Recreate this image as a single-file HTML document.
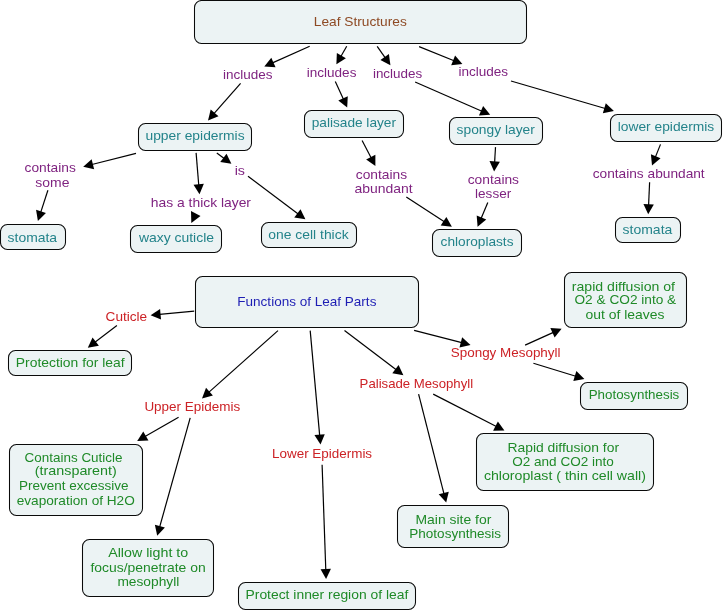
<!DOCTYPE html>
<html><head><meta charset="utf-8"><style>
html,body{margin:0;padding:0;background:#fff;}
body{width:724px;height:612px;overflow:hidden;}
svg{display:block;will-change:transform;}
text{font-family:"Liberation Sans",sans-serif;font-size:13px;}
</style></head><body>
<svg width="724" height="612" viewBox="0 0 724 612">
<rect width="724" height="612" fill="#fff"/>
<rect x="194.5" y="0.5" width="332" height="43" rx="7" ry="7" fill="#ecf3f4" stroke="#0a0a0a" stroke-width="1.05"/>
<rect x="138.5" y="123.5" width="113" height="27" rx="7" ry="7" fill="#ecf3f4" stroke="#0a0a0a" stroke-width="1.05"/>
<rect x="304.5" y="110.5" width="99" height="27" rx="7" ry="7" fill="#ecf3f4" stroke="#0a0a0a" stroke-width="1.05"/>
<rect x="449.5" y="117.5" width="93" height="27" rx="7" ry="7" fill="#ecf3f4" stroke="#0a0a0a" stroke-width="1.05"/>
<rect x="610.5" y="114.5" width="111" height="27" rx="7" ry="7" fill="#ecf3f4" stroke="#0a0a0a" stroke-width="1.05"/>
<rect x="0.5" y="224.5" width="65" height="25" rx="7" ry="7" fill="#ecf3f4" stroke="#0a0a0a" stroke-width="1.05"/>
<rect x="130.5" y="225.5" width="91" height="27" rx="7" ry="7" fill="#ecf3f4" stroke="#0a0a0a" stroke-width="1.05"/>
<rect x="261.5" y="222.5" width="95" height="25" rx="7" ry="7" fill="#ecf3f4" stroke="#0a0a0a" stroke-width="1.05"/>
<rect x="432.5" y="229.5" width="89" height="27" rx="7" ry="7" fill="#ecf3f4" stroke="#0a0a0a" stroke-width="1.05"/>
<rect x="615.5" y="217.5" width="65" height="25" rx="7" ry="7" fill="#ecf3f4" stroke="#0a0a0a" stroke-width="1.05"/>
<rect x="195.5" y="276.5" width="223" height="51" rx="7" ry="7" fill="#ecf3f4" stroke="#0a0a0a" stroke-width="1.05"/>
<rect x="8.5" y="350.5" width="123" height="25" rx="7" ry="7" fill="#ecf3f4" stroke="#0a0a0a" stroke-width="1.05"/>
<rect x="9.5" y="444.5" width="133" height="71" rx="7" ry="7" fill="#ecf3f4" stroke="#0a0a0a" stroke-width="1.05"/>
<rect x="82.5" y="539.5" width="131" height="57" rx="7" ry="7" fill="#ecf3f4" stroke="#0a0a0a" stroke-width="1.05"/>
<rect x="238.5" y="582.5" width="177" height="27" rx="7" ry="7" fill="#ecf3f4" stroke="#0a0a0a" stroke-width="1.05"/>
<rect x="397.5" y="505.5" width="111" height="42" rx="7" ry="7" fill="#ecf3f4" stroke="#0a0a0a" stroke-width="1.05"/>
<rect x="476.5" y="433.5" width="177" height="57" rx="7" ry="7" fill="#ecf3f4" stroke="#0a0a0a" stroke-width="1.05"/>
<rect x="564.5" y="272.5" width="122" height="55" rx="7" ry="7" fill="#ecf3f4" stroke="#0a0a0a" stroke-width="1.05"/>
<rect x="580.5" y="382.5" width="107" height="27" rx="7" ry="7" fill="#ecf3f4" stroke="#0a0a0a" stroke-width="1.05"/>
<line x1="309.7" y1="46.3" x2="272.52" y2="62.84" stroke="#000" stroke-width="1.2"/>
<polygon points="264.3,66.5 271.32,57.68 275.55,67.19" fill="#000"/>
<line x1="240.6" y1="83.4" x2="213.95" y2="113.65" stroke="#000" stroke-width="1.2"/>
<polygon points="208,120.4 210.71,109.46 218.51,116.33" fill="#000"/>
<line x1="346.7" y1="46.3" x2="340.87" y2="56.49" stroke="#000" stroke-width="1.2"/>
<polygon points="336.4,64.3 336.85,53.04 345.88,58.2" fill="#000"/>
<line x1="335.3" y1="81.4" x2="343.45" y2="99.22" stroke="#000" stroke-width="1.2"/>
<polygon points="347.2,107.4 338.31,100.47 347.77,96.14" fill="#000"/>
<line x1="377.2" y1="46.3" x2="385.25" y2="57.82" stroke="#000" stroke-width="1.2"/>
<polygon points="390.4,65.2 380.41,59.98 388.94,54.02" fill="#000"/>
<line x1="415.1" y1="82" x2="481.95" y2="111.2" stroke="#000" stroke-width="1.2"/>
<polygon points="490.2,114.8 478.95,115.56 483.12,106.03" fill="#000"/>
<line x1="419.1" y1="46.6" x2="454.06" y2="60.73" stroke="#000" stroke-width="1.2"/>
<polygon points="462.4,64.1 451.18,65.17 455.08,55.53" fill="#000"/>
<line x1="511" y1="81" x2="605.26" y2="108.48" stroke="#000" stroke-width="1.2"/>
<polygon points="613.9,111 602.84,113.19 605.76,103.21" fill="#000"/>
<line x1="136" y1="153.4" x2="91.93" y2="164.5" stroke="#000" stroke-width="1.2"/>
<polygon points="83.2,166.7 91.63,159.21 94.17,169.3" fill="#000"/>
<line x1="47.9" y1="190.3" x2="40.7" y2="212.35" stroke="#000" stroke-width="1.2"/>
<polygon points="37.9,220.9 36.06,209.78 45.95,213.01" fill="#000"/>
<line x1="196.1" y1="152.9" x2="198.76" y2="185.23" stroke="#000" stroke-width="1.2"/>
<polygon points="199.5,194.2 193.5,184.66 203.86,183.81" fill="#000"/>
<line x1="216.8" y1="152.9" x2="224.19" y2="158.42" stroke="#000" stroke-width="1.2"/>
<polygon points="231.4,163.8 220.28,161.98 226.5,153.65" fill="#000"/>
<line x1="248" y1="176.3" x2="298.2" y2="213.9" stroke="#000" stroke-width="1.2"/>
<polygon points="305.4,219.3 294.28,217.47 300.51,209.14" fill="#000"/>
<line x1="362.1" y1="140.5" x2="371.23" y2="157.93" stroke="#000" stroke-width="1.2"/>
<polygon points="375.4,165.9 366.15,159.45 375.37,154.63" fill="#000"/>
<line x1="406.3" y1="197.1" x2="444.35" y2="221.8" stroke="#000" stroke-width="1.2"/>
<polygon points="451.9,226.7 440.68,225.62 446.34,216.89" fill="#000"/>
<line x1="495.5" y1="147.1" x2="494.62" y2="162.41" stroke="#000" stroke-width="1.2"/>
<polygon points="494.1,171.4 489.48,161.12 499.87,161.72" fill="#000"/>
<line x1="487.8" y1="202.4" x2="481.08" y2="218.4" stroke="#000" stroke-width="1.2"/>
<polygon points="477.6,226.7 476.68,215.47 486.27,219.49" fill="#000"/>
<line x1="660.5" y1="144.4" x2="655.36" y2="157.15" stroke="#000" stroke-width="1.2"/>
<polygon points="652,165.5 650.91,154.28 660.56,158.17" fill="#000"/>
<line x1="649.6" y1="182.2" x2="648.59" y2="205.21" stroke="#000" stroke-width="1.2"/>
<polygon points="648.2,214.2 643.44,203.98 653.83,204.44" fill="#000"/>
<line x1="194.2" y1="311.1" x2="159.56" y2="314.36" stroke="#000" stroke-width="1.2"/>
<polygon points="150.6,315.2 160.07,309.09 161.04,319.44" fill="#000"/>
<line x1="116.9" y1="325.5" x2="94.94" y2="342.33" stroke="#000" stroke-width="1.2"/>
<polygon points="87.8,347.8 92.57,337.59 98.9,345.84" fill="#000"/>
<line x1="278" y1="330.6" x2="208.72" y2="392.41" stroke="#000" stroke-width="1.2"/>
<polygon points="202,398.4 206,387.86 212.92,395.62" fill="#000"/>
<line x1="178.6" y1="417.2" x2="144.99" y2="436.6" stroke="#000" stroke-width="1.2"/>
<polygon points="137.2,441.1 143.26,431.6 148.46,440.6" fill="#000"/>
<line x1="190.2" y1="417.8" x2="159.62" y2="527.13" stroke="#000" stroke-width="1.2"/>
<polygon points="157.2,535.8 154.89,524.77 164.9,527.57" fill="#000"/>
<line x1="310.2" y1="330.6" x2="319.69" y2="435.64" stroke="#000" stroke-width="1.2"/>
<polygon points="320.5,444.6 314.42,435.11 324.78,434.17" fill="#000"/>
<line x1="322.1" y1="464.7" x2="325.79" y2="570.01" stroke="#000" stroke-width="1.2"/>
<polygon points="326.1,579 320.55,569.19 330.95,568.82" fill="#000"/>
<line x1="344.5" y1="330.4" x2="396.24" y2="369.75" stroke="#000" stroke-width="1.2"/>
<polygon points="403.4,375.2 392.29,373.28 398.59,365.01" fill="#000"/>
<line x1="433.2" y1="394.1" x2="496.39" y2="426.49" stroke="#000" stroke-width="1.2"/>
<polygon points="504.4,430.6 493.13,430.67 497.87,421.41" fill="#000"/>
<line x1="418.6" y1="394.1" x2="443.98" y2="493.88" stroke="#000" stroke-width="1.2"/>
<polygon points="446.2,502.6 438.7,494.19 448.77,491.63" fill="#000"/>
<line x1="414.1" y1="330.4" x2="461.78" y2="342.66" stroke="#000" stroke-width="1.2"/>
<polygon points="470.5,344.9 459.52,347.45 462.11,337.37" fill="#000"/>
<line x1="525.1" y1="345.1" x2="553.39" y2="332.39" stroke="#000" stroke-width="1.2"/>
<polygon points="561.6,328.7 554.61,337.54 550.35,328.06" fill="#000"/>
<line x1="533.4" y1="363.2" x2="575.8" y2="376.25" stroke="#000" stroke-width="1.2"/>
<polygon points="584.4,378.9 573.31,380.93 576.37,370.99" fill="#000"/>
<polygon points="191,211 191.3,223 200.5,216" fill="#000"/>
<text x="313.8" y="26.2" fill="#8e4a24" textLength="93" lengthAdjust="spacingAndGlyphs">Leaf Structures</text>
<text x="145.5" y="140" fill="#23838a" textLength="99.1" lengthAdjust="spacingAndGlyphs">upper epidermis</text>
<text x="311.7" y="127.3" fill="#23838a" textLength="84.3" lengthAdjust="spacingAndGlyphs">palisade layer</text>
<text x="456.6" y="134.3" fill="#23838a" textLength="78.2" lengthAdjust="spacingAndGlyphs">spongy layer</text>
<text x="617.7" y="131.3" fill="#23838a" textLength="96.6" lengthAdjust="spacingAndGlyphs">lower epidermis</text>
<text x="7.6" y="241.6" fill="#23838a" textLength="49.5" lengthAdjust="spacingAndGlyphs">stomata</text>
<text x="138.9" y="242.3" fill="#23838a" textLength="75.1" lengthAdjust="spacingAndGlyphs">waxy cuticle</text>
<text x="268.3" y="238.8" fill="#23838a" textLength="80.3" lengthAdjust="spacingAndGlyphs">one cell thick</text>
<text x="440.6" y="246.1" fill="#23838a" textLength="72.9" lengthAdjust="spacingAndGlyphs">chloroplasts</text>
<text x="622.6" y="234" fill="#23838a" textLength="49.7" lengthAdjust="spacingAndGlyphs">stomata</text>
<text x="222.9" y="79" fill="#7f2380" textLength="49.5" lengthAdjust="spacingAndGlyphs">includes</text>
<text x="306.8" y="76.9" fill="#7f2380" textLength="49.6" lengthAdjust="spacingAndGlyphs">includes</text>
<text x="372.9" y="78.1" fill="#7f2380" textLength="49.3" lengthAdjust="spacingAndGlyphs">includes</text>
<text x="458.4" y="76.2" fill="#7f2380" textLength="49.7" lengthAdjust="spacingAndGlyphs">includes</text>
<text x="24.6" y="172" fill="#7f2380" textLength="51.2" lengthAdjust="spacingAndGlyphs">contains</text>
<text x="35.3" y="187" fill="#7f2380" textLength="34.1" lengthAdjust="spacingAndGlyphs">some</text>
<text x="150.8" y="207" fill="#7f2380" textLength="100.2" lengthAdjust="spacingAndGlyphs">has a thick layer</text>
<text x="234.7" y="174.8" fill="#7f2380" textLength="10.3" lengthAdjust="spacingAndGlyphs">is</text>
<text x="355.8" y="178.9" fill="#7f2380" textLength="51.3" lengthAdjust="spacingAndGlyphs">contains</text>
<text x="354.4" y="193" fill="#7f2380" textLength="58.2" lengthAdjust="spacingAndGlyphs">abundant</text>
<text x="467.7" y="184.1" fill="#7f2380" textLength="51.3" lengthAdjust="spacingAndGlyphs">contains</text>
<text x="475.1" y="198.2" fill="#7f2380" textLength="36.1" lengthAdjust="spacingAndGlyphs">lesser</text>
<text x="592.7" y="178.2" fill="#7f2380" textLength="112" lengthAdjust="spacingAndGlyphs">contains abundant</text>
<text x="105.6" y="321.3" fill="#cc2226" textLength="41.6" lengthAdjust="spacingAndGlyphs">Cuticle</text>
<text x="144.4" y="411.1" fill="#cc2226" textLength="95.8" lengthAdjust="spacingAndGlyphs">Upper Epidemis</text>
<text x="272" y="458.3" fill="#cc2226" textLength="100.1" lengthAdjust="spacingAndGlyphs">Lower Epidermis</text>
<text x="359.6" y="387.9" fill="#cc2226" textLength="113.5" lengthAdjust="spacingAndGlyphs">Palisade Mesophyll</text>
<text x="450.8" y="357.3" fill="#cc2226" textLength="109.7" lengthAdjust="spacingAndGlyphs">Spongy Mesophyll</text>
<text x="237.3" y="306.4" fill="#1e1eb4" textLength="139.1" lengthAdjust="spacingAndGlyphs">Functions of Leaf Parts</text>
<text x="15.8" y="366.9" fill="#1f8a28" textLength="108.8" lengthAdjust="spacingAndGlyphs">Protection for leaf</text>
<text x="24.6" y="461.8" fill="#1f8a28" textLength="97.9" lengthAdjust="spacingAndGlyphs">Contains Cuticle</text>
<text x="34.8" y="475.4" fill="#1f8a28" textLength="82" lengthAdjust="spacingAndGlyphs">(transparent)</text>
<text x="18.9" y="490.4" fill="#1f8a28" textLength="109.6" lengthAdjust="spacingAndGlyphs">Prevent excessive</text>
<text x="16.7" y="504.7" fill="#1f8a28" textLength="118.1" lengthAdjust="spacingAndGlyphs">evaporation of H2O</text>
<text x="108.2" y="557" fill="#1f8a28" textLength="80" lengthAdjust="spacingAndGlyphs">Allow light to</text>
<text x="90.4" y="572" fill="#1f8a28" textLength="115.3" lengthAdjust="spacingAndGlyphs">focus/penetrate on</text>
<text x="117.4" y="585.7" fill="#1f8a28" textLength="61.9" lengthAdjust="spacingAndGlyphs">mesophyll</text>
<text x="245.5" y="598.7" fill="#1f8a28" textLength="162.8" lengthAdjust="spacingAndGlyphs">Protect inner region of leaf</text>
<text x="415.5" y="523.6" fill="#1f8a28" textLength="75.8" lengthAdjust="spacingAndGlyphs">Main site for</text>
<text x="409.3" y="537.9" fill="#1f8a28" textLength="91.7" lengthAdjust="spacingAndGlyphs">Photosynthesis</text>
<text x="507.5" y="451.7" fill="#1f8a28" textLength="111.5" lengthAdjust="spacingAndGlyphs">Rapid diffusion for</text>
<text x="512.2" y="465.6" fill="#1f8a28" textLength="101.7" lengthAdjust="spacingAndGlyphs">O2 and CO2 into</text>
<text x="483.9" y="479.9" fill="#1f8a28" textLength="162.1" lengthAdjust="spacingAndGlyphs">chloroplast ( thin cell wall)</text>
<text x="571.8" y="290.6" fill="#1f8a28" textLength="103.2" lengthAdjust="spacingAndGlyphs">rapid diffusion of</text>
<text x="574.5" y="304.3" fill="#1f8a28" textLength="101.7" lengthAdjust="spacingAndGlyphs">O2 &amp; CO2 into &amp;</text>
<text x="585.5" y="318.8" fill="#1f8a28" textLength="78.9" lengthAdjust="spacingAndGlyphs">out of leaves</text>
<text x="588.7" y="399.3" fill="#1f8a28" textLength="90.6" lengthAdjust="spacingAndGlyphs">Photosynthesis</text>
</svg>
</body></html>
